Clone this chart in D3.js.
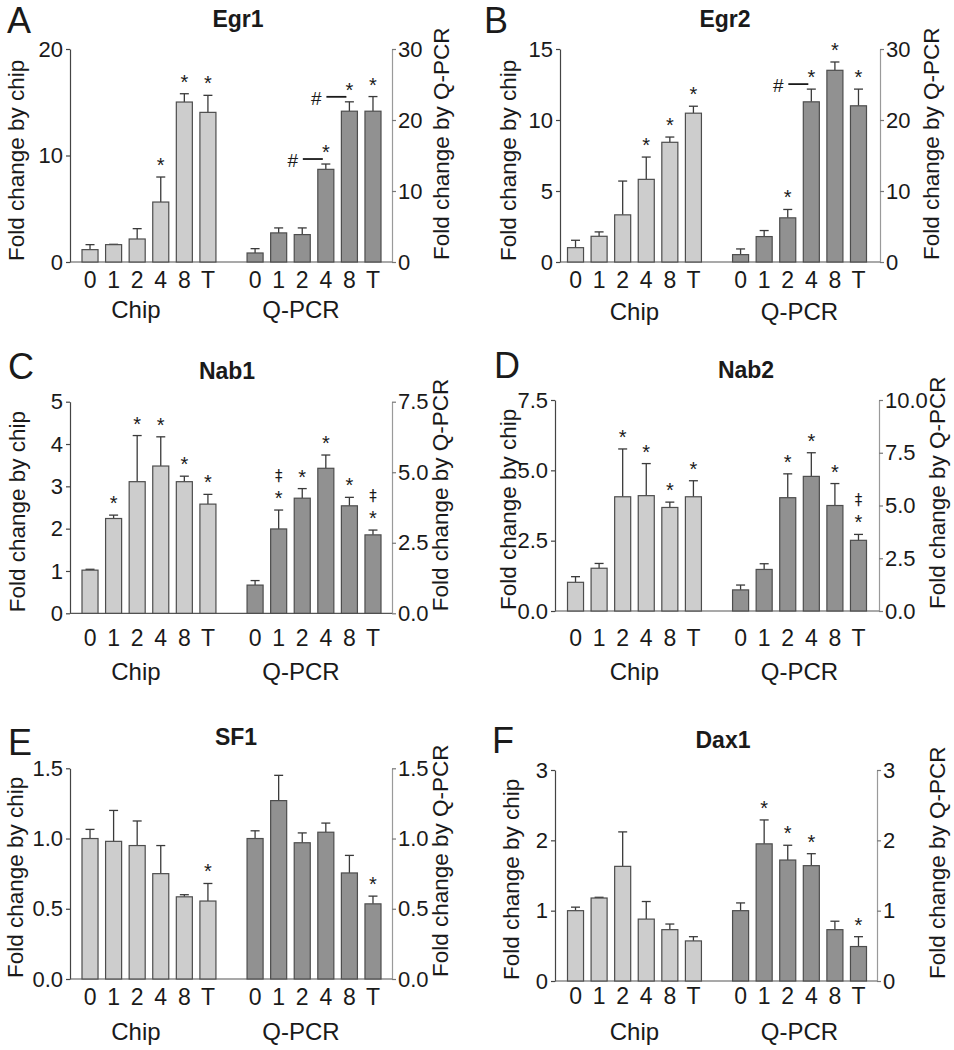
<!DOCTYPE html>
<html>
<head>
<meta charset="utf-8">
<script src="https://cdnjs.cloudflare.com/ajax/libs/d3/7.8.5/d3.min.js"></script>
<style>
  body { margin: 0; background: #fff; }
  svg { display: block; font-family: "Liberation Sans", Arial, sans-serif; }
</style>
</head>
<body>
<svg id="fig" width="954" height="1050"></svg>
<script>
// ------------------------------------------------------------
// Data: mean fold change and upper SEM
// ------------------------------------------------------------
var timepoints = ['0', '1', '2', '4', '8', 'T'];
var groups = ['Chip', 'Q-PCR'];

var egr1Chip     = [1.16, 1.63, 2.16, 5.63, 15.02, 14.05];
var egr1ChipErr  = [0.47, 0.03, 0.97, 2.35, 0.78, 1.60];
var egr1Qpcr     = [1.27, 4.10, 3.86, 13.05, 21.24, 21.24];
var egr1QpcrErr  = [0.61, 0.70, 0.94, 0.75, 1.32, 2.06];
var egr1ChipMarks = ['', '', '', '*', '*', '*'];
var egr1QpcrMarks = ['', '', '', '#*', '#*', '*'];

var egr2Chip     = [1.01, 1.81, 3.32, 5.82, 8.43, 10.48];
var egr2ChipErr  = [0.52, 0.31, 2.38, 1.57, 0.37, 0.49];
var egr2Qpcr     = [1.04, 3.58, 6.22, 22.56, 27.00, 22.00];
var egr2QpcrErr  = [0.80, 0.85, 1.18, 1.79, 1.17, 2.35];
var egr2ChipMarks = ['', '', '', '*', '*', '*'];
var egr2QpcrMarks = ['', '', '*', '#*', '*', '*'];

var nab1Chip     = [1.02, 2.24, 3.11, 3.48, 3.11, 2.58];
var nab1ChipErr  = [0.02, 0.08, 1.09, 0.69, 0.13, 0.23];
var nab1Qpcr     = [1.00, 2.99, 4.08, 5.14, 3.81, 2.78];
var nab1QpcrErr  = [0.16, 0.67, 0.34, 0.47, 0.30, 0.17];
var nab1ChipMarks = ['', '*', '*', '*', '*', '*'];
var nab1QpcrMarks = ['', '‡*', '*', '*', '*', '‡*'];

var nab2Chip     = [1.02, 1.52, 4.06, 4.10, 3.68, 4.06];
var nab2ChipErr  = [0.20, 0.17, 1.70, 1.14, 0.19, 0.57];
var nab2Qpcr     = [1.00, 1.97, 5.37, 6.38, 5.00, 3.35];
var nab2QpcrErr  = [0.23, 0.27, 1.13, 1.12, 1.04, 0.28];
var nab2ChipMarks = ['', '', '*', '*', '*', '*'];
var nab2QpcrMarks = ['', '', '*', '*', '*', '‡*'];

var sf1Chip      = [1.00, 0.98, 0.95, 0.75, 0.585, 0.555];
var sf1ChipErr   = [0.065, 0.22, 0.175, 0.20, 0.015, 0.125];
var sf1Qpcr      = [1.00, 1.27, 0.97, 1.045, 0.755, 0.535];
var sf1QpcrErr   = [0.055, 0.18, 0.07, 0.065, 0.125, 0.055];
var sf1ChipMarks = ['', '', '', '', '', '*'];
var sf1QpcrMarks = ['', '', '', '', '', '*'];

var dax1Chip     = [1.00, 1.18, 1.63, 0.88, 0.73, 0.57];
var dax1ChipErr  = [0.05, 0.01, 0.49, 0.25, 0.08, 0.06];
var dax1Qpcr     = [1.00, 1.95, 1.72, 1.64, 0.73, 0.49];
var dax1QpcrErr  = [0.11, 0.34, 0.21, 0.17, 0.12, 0.14];
var dax1ChipMarks = ['', '', '', '', '', ''];
var dax1QpcrMarks = ['', '*', '*', '*', '', '*'];

// axis ticks
var egr1ChipTicks = [0, 10, 20],        egr1QpcrTicks = [0, 10, 20, 30];
var egr2ChipTicks = [0, 5, 10, 15],     egr2QpcrTicks = [0, 10, 20, 30];
var nab1ChipTicks = [0, 1, 2, 3, 4, 5], nab1QpcrTicks = [0, 2.5, 5, 7.5];
var nab2ChipTicks = [0, 2.5, 5, 7.5],   nab2QpcrTicks = [0, 2.5, 5, 7.5, 10];
var sf1ChipTicks  = [0, 0.5, 1, 1.5],   sf1QpcrTicks  = [0, 0.5, 1, 1.5];
var dax1ChipTicks = [0, 1, 2, 3],       dax1QpcrTicks = [0, 1, 2, 3];

// ------------------------------------------------------------
// Panel layout
// ------------------------------------------------------------
var panels = [
  { letter: 'A', gene: 'Egr1', chip: egr1Chip, chipErr: egr1ChipErr, qpcr: egr1Qpcr, qpcrErr: egr1QpcrErr,
    chipMarks: egr1ChipMarks, qpcrMarks: egr1QpcrMarks, chipTicks: egr1ChipTicks, qpcrTicks: egr1QpcrTicks, fmt: 'd',
    axisL: 70, axisR: 392, barL: 82, barR: 381, y0: 262, yTop: 49,
    letterX: 7, letterY: 33, titleX: 238, titleY: 27, tickPad: 9.7, groupDy: 56, groupShift: -13,
    titleLX: 15.7, titleRX: 440.7 },
  { letter: 'B', gene: 'Egr2', chip: egr2Chip, chipErr: egr2ChipErr, qpcr: egr2Qpcr, qpcrErr: egr2QpcrErr,
    chipMarks: egr2ChipMarks, qpcrMarks: egr2QpcrMarks, chipTicks: egr2ChipTicks, qpcrTicks: egr2QpcrTicks, fmt: 'd',
    axisL: 560, axisR: 880, barL: 567.5, barR: 866.5, y0: 262, yTop: 49,
    letterX: 484, letterY: 33, titleX: 725, titleY: 27, tickPad: 9.7, groupDy: 58, groupShift: 0,
    titleLX: 508.4, titleRX: 931.4 },
  { letter: 'C', gene: 'Nab1', chip: nab1Chip, chipErr: nab1ChipErr, qpcr: nab1Qpcr, qpcrErr: nab1QpcrErr,
    chipMarks: nab1ChipMarks, qpcrMarks: nab1QpcrMarks, chipTicks: nab1ChipTicks, qpcrTicks: nab1QpcrTicks, fmtL: 'd', fmt: '.1f',
    axisL: 70, axisR: 392, barL: 82, barR: 381, y0: 613.3, yTop: 401.7,
    letterX: 8, letterY: 379, titleX: 227, titleY: 379, tickPad: 16.7, groupDy: 67, groupShift: -13,
    titleLX: 17.4, titleRX: 440.4 },
  { letter: 'D', gene: 'Nab2', chip: nab2Chip, chipErr: nab2ChipErr, qpcr: nab2Qpcr, qpcrErr: nab2QpcrErr,
    chipMarks: nab2ChipMarks, qpcrMarks: nab2QpcrMarks, chipTicks: nab2ChipTicks, qpcrTicks: nab2QpcrTicks, fmt: '.1f',
    axisL: 555, axisR: 879, barL: 567.5, barR: 866.5, y0: 611, yTop: 400,
    letterX: 494, letterY: 378, titleX: 746, titleY: 378, tickPad: 18.7, groupDy: 69, groupShift: 0,
    titleLX: 508, titleRX: 937.4 },
  { letter: 'E', gene: 'SF1', chip: sf1Chip, chipErr: sf1ChipErr, qpcr: sf1Qpcr, qpcrErr: sf1QpcrErr,
    chipMarks: sf1ChipMarks, qpcrMarks: sf1QpcrMarks, chipTicks: sf1ChipTicks, qpcrTicks: sf1QpcrTicks, fmt: '.1f',
    axisL: 70, axisR: 392, barL: 82, barR: 381, y0: 979, yTop: 768.3,
    letterX: 8, letterY: 755, titleX: 236, titleY: 745, tickPad: 9.7, groupDy: 61, groupShift: -13,
    titleLX: 15.4, titleRX: 440.4 },
  { letter: 'F', gene: 'Dax1', chip: dax1Chip, chipErr: dax1ChipErr, qpcr: dax1Qpcr, qpcrErr: dax1QpcrErr,
    chipMarks: dax1ChipMarks, qpcrMarks: dax1QpcrMarks, chipTicks: dax1ChipTicks, qpcrTicks: dax1QpcrTicks, fmt: 'd',
    axisL: 555, axisR: 877, barL: 567.5, barR: 866.5, y0: 981, yTop: 770,
    letterX: 492, letterY: 753, titleX: 723, titleY: 748, tickPad: 6.7, groupDy: 59, groupShift: 0,
    titleLX: 511, titleRX: 937.4 }
];

var ink = '#1a1a1a',
    chipFill = '#cdcdcd',
    qpcrFill = '#919191',
    barStroke = '#4d4d4d',
    fontStack = '"Liberation Sans", Arial, sans-serif';

var svg = d3.select('#fig');

// 13 band slots: 6 chip, one empty gap, 6 Q-PCR
var slots = timepoints.map(function(t) { return 'c' + t; })
  .concat(['gap'])
  .concat(timepoints.map(function(t) { return 'q' + t; }));

function drawPanel(p) {
  var g = svg.append('g').attr('class', 'panel panel-' + p.letter);

  var x = d3.scaleBand().domain(slots).range([p.barL, p.barR]).paddingInner(0.32).paddingOuter(0);
  var yL = d3.scaleLinear().domain([0, d3.max(p.chipTicks)]).range([p.y0, p.yTop]);
  var yR = d3.scaleLinear().domain([0, d3.max(p.qpcrTicks)]).range([p.y0, p.yTop]);

  //------------------------------------------------------------
  // Axes

  var leftAxis = g.append('g')
    .attr('transform', 'translate(' + p.axisL + ',0)')
    .call(d3.axisLeft(yL).tickValues(p.chipTicks).tickFormat(d3.format(p.fmtL || p.fmt))
      .tickSize(4).tickSizeOuter(0).tickPadding(3));
  leftAxis.select('.domain').attr('stroke', '#444').attr('stroke-width', 1.2);
  leftAxis.selectAll('.tick line').attr('stroke', '#444').attr('stroke-width', 1.2);

  var rightAxis = g.append('g')
    .attr('transform', 'translate(' + p.axisR + ',0)')
    .call(d3.axisRight(yR).tickValues(p.qpcrTicks).tickFormat(d3.format(p.fmt))
      .tickSize(4).tickSizeOuter(0).tickPadding(2));
  rightAxis.select('.domain').attr('stroke', '#9a9a9a').attr('stroke-width', 1.2);
  rightAxis.selectAll('.tick line').attr('stroke', '#777').attr('stroke-width', 1.2);

  [leftAxis, rightAxis].forEach(function(a) {
    a.selectAll('.tick text')
      .attr('fill', ink)
      .style('font-size', '22px')
      .style('font-family', fontStack);
  });

  var bottomAxis = g.append('g')
    .attr('transform', 'translate(0,' + p.y0 + ')')
    .call(d3.axisBottom(x).tickSize(0).tickPadding(p.tickPad)
      .tickFormat(function(k) { return k === 'gap' ? '' : k.slice(1); }));
  bottomAxis.select('.domain').remove();
  bottomAxis.selectAll('.tick text')
    .attr('fill', ink)
    .style('font-size', '23px')
    .style('font-family', fontStack);

  // baseline
  g.append('line')
    .attr('x1', p.axisL).attr('x2', p.axisR)
    .attr('y1', p.y0).attr('y2', p.y0)
    .attr('stroke', '#555').attr('stroke-width', 1.2);

  //------------------------------------------------------------
  // Bars

  var bars = [];
  timepoints.forEach(function(t, i) {
    bars.push({ key: 'c' + t, y: yL, v: p.chip[i], e: p.chipErr[i], mark: p.chipMarks[i], fill: chipFill });
  });
  timepoints.forEach(function(t, i) {
    bars.push({ key: 'q' + t, y: yR, v: p.qpcr[i], e: p.qpcrErr[i], mark: p.qpcrMarks[i], fill: qpcrFill });
  });

  var bw = x.bandwidth();

  // error bars (upper only)
  var err = g.selectAll('g.err').data(bars).enter().append('g').attr('class', 'err')
    .attr('stroke', '#3a3a3a').attr('stroke-width', 1.3);
  err.append('line')
    .attr('x1', function(d) { return x(d.key) + bw / 2; })
    .attr('x2', function(d) { return x(d.key) + bw / 2; })
    .attr('y1', function(d) { return d.y(d.v); })
    .attr('y2', function(d) { return d.y(d.v + d.e); });
  err.append('line')
    .attr('x1', function(d) { return x(d.key) + bw / 2 - 4.5; })
    .attr('x2', function(d) { return x(d.key) + bw / 2 + 4.5; })
    .attr('y1', function(d) { return d.y(d.v + d.e); })
    .attr('y2', function(d) { return d.y(d.v + d.e); });

  g.selectAll('rect.bar').data(bars).enter().append('rect')
    .attr('class', 'bar')
    .attr('x', function(d) { return x(d.key); })
    .attr('width', bw)
    .attr('y', function(d) { return d.y(d.v); })
    .attr('height', function(d) { return p.y0 - d.y(d.v); })
    .attr('fill', function(d) { return d.fill; })
    .attr('stroke', barStroke)
    .attr('stroke-width', 1.2);

  //------------------------------------------------------------
  // Significance marks

  bars.forEach(function(d) {
    if (!d.mark) { return; }
    var cx = x(d.key) + bw / 2,
        top = d.y(d.v + d.e);
    if (d.mark.indexOf('*') >= 0) {
      g.append('text').attr('x', cx).attr('y', top - 5)
        .attr('text-anchor', 'middle').attr('fill', ink)
        .style('font-size', '20px').text('*');
    }
    if (d.mark.indexOf('‡') >= 0) {
      g.append('text').attr('x', cx).attr('y', top - 29)
        .attr('text-anchor', 'middle').attr('fill', ink)
        .style('font-family', '"DejaVu Sans", sans-serif')
        .style('font-size', '15px').text('‡');
    }
    if (d.mark.indexOf('#') >= 0) {
      g.append('text').attr('x', cx - 33).attr('y', top + 3)
        .attr('text-anchor', 'middle').attr('fill', ink)
        .style('font-size', '19px').text('#');
      g.append('line')
        .attr('x1', cx - 23).attr('x2', cx - 3)
        .attr('y1', top - 5).attr('y2', top - 5)
        .attr('stroke', ink).attr('stroke-width', 1.8);
    }
  });

  //------------------------------------------------------------
  // Labels

  var chipMid = (x('c0') + x('cT') + bw) / 2,
      qpcrMid = (x('q0') + x('qT') + bw) / 2;
  g.selectAll('text.group').data(groups).enter().append('text')
    .attr('class', 'group')
    .attr('x', function(d, i) { return (i === 0 ? chipMid : qpcrMid) + p.groupShift; })
    .attr('y', p.y0 + p.groupDy)
    .attr('text-anchor', 'middle').attr('fill', ink)
    .style('font-size', '24px')
    .text(function(d) { return d; });

  g.append('text')
    .attr('transform', 'translate(' + p.titleLX + ',' + (p.y0 - 1) + ') rotate(-90)')
    .attr('dy', '0.35em').attr('fill', ink)
    .style('font-size', '22.5px')
    .text('Fold change by chip');

  g.append('text')
    .attr('transform', 'translate(' + p.titleRX + ',' + (p.y0 - 2) + ') rotate(-90)')
    .attr('dy', '0.35em').attr('fill', ink)
    .style('font-size', '22.5px')
    .text('Fold change by Q-PCR');

  g.append('text')
    .attr('x', p.titleX).attr('y', p.titleY)
    .attr('text-anchor', 'middle').attr('fill', ink)
    .style('font-size', '23px').style('font-weight', 'bold')
    .text(p.gene);

  g.append('text')
    .attr('x', p.letterX).attr('y', p.letterY)
    .attr('fill', ink)
    .style('font-size', '36px')
    .text(p.letter);
}

panels.forEach(drawPanel);
</script>
</body>
</html>
